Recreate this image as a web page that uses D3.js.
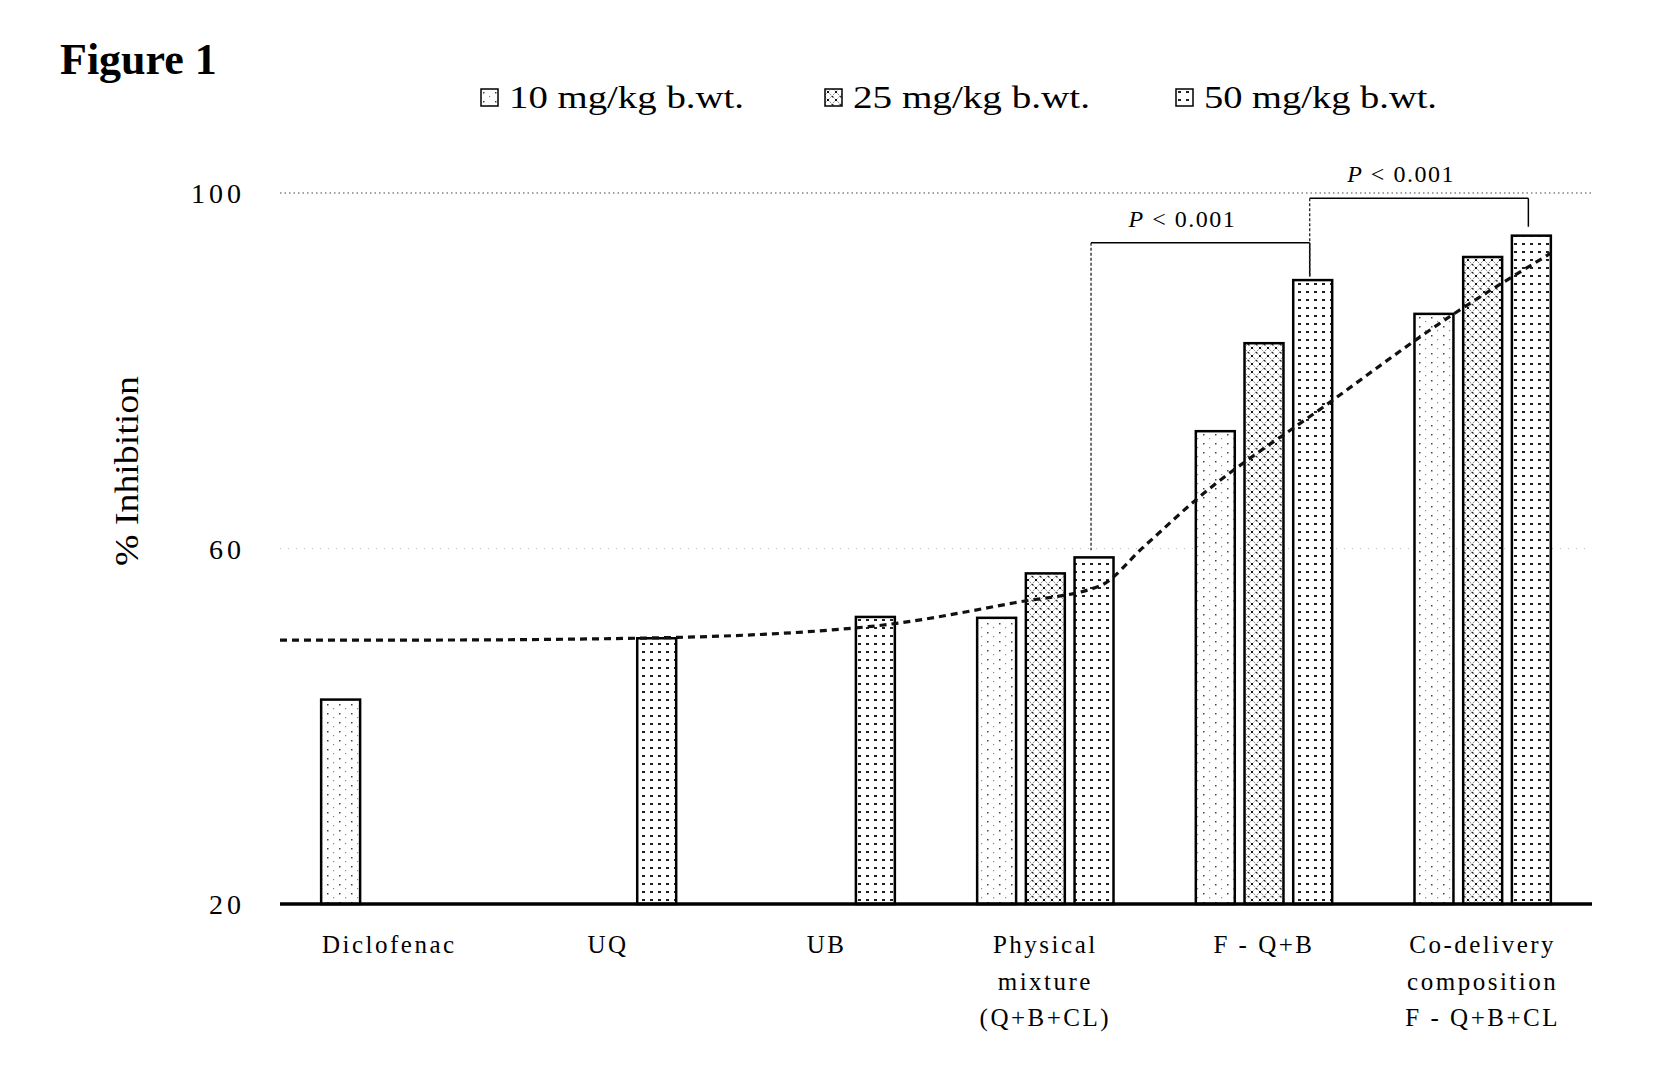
<!DOCTYPE html>
<html lang="en">
<head>
<meta charset="UTF-8">
<title>Figure 1</title>
<script src="https://d3js.org/d3.v7.min.js"></script>
<style>
  html, body { margin: 0; padding: 0; background: #fff; }
  svg { display: block; }
</style>
</head>
<body>
<svg id="chart" width="1659" height="1091"></svg>
<script>
(function () {
  'use strict';

  // ---- data ----
  const categories = ["Diclofenac", "UQ", "UB", "Physical mixture (Q+B+CL)", "F - Q+B", "Co-delivery composition F - Q+B+CL"];
  const categoryLines = [["Diclofenac"], ["UQ"], ["UB"], ["Physical", "mixture", "(Q+B+CL)"], ["F - Q+B"], ["Co-delivery", "composition", "F - Q+B+CL"]];
  const series = ["10 mg/kg b.wt.", "25 mg/kg b.wt.", "50 mg/kg b.wt."];
  const dose10 = [43.0, null, null, 52.2, 73.2, 86.4];
  const dose25 = [null, null, null, 57.2, 83.1, 92.8];
  const dose50 = [null, 49.9, 52.3, 59.0, 90.2, 95.2];
  const yTicks = [20, 60, 100];

  // dashed trend line: position in category units (0 = first group centre) and value
  const trendPos = [-0.5, 0.15, 1.12, 2.19, 2.86, 3.25, 3.45, 3.69, 4.27, 4.85, 5.31];
  const trendVal = [49.7, 49.7, 49.9, 51.2, 53.9, 55.8, 60.2, 65.5, 75.9, 86.1, 93.2];

  // significance brackets
  const brackets = [
    { from: [3, 2], to: [4, 2], level: 94.4, leftEnd: 59.8, rightEnd: 90.6, label: "0.001" },
    { from: [4, 2], to: [5, 2], level: 99.4, leftEnd: 90.6, rightEnd: 96.2, label: "0.001" }
  ];

  const values = [dose10, dose25, dose50];

  // ---- layout ----
  const svg = d3.select('#chart');
  const left = 280, right = 1592, top = 193, bottom = 904;
  const serif = "'Liberation Serif', 'Times New Roman', serif";

  const x0 = d3.scaleBand().domain(d3.range(categories.length)).range([left, right]).padding(0);
  const x1 = d3.scaleBand().domain(d3.range(series.length)).range([0, x0.bandwidth()])
      .paddingInner(0.2).paddingOuter(0.845);
  const y = d3.scaleLinear().domain([20, 100]).range([bottom, top]);
  const xc = d3.scaleLinear().domain([0, categories.length - 1])
      .range([x0(0) + x0.bandwidth() / 2, x0(categories.length - 1) + x0.bandwidth() / 2]);

  // ---- fill patterns ----
  const defs = svg.append('defs');
  const p10 = defs.append('pattern').attr('id', 'p10').attr('patternUnits', 'userSpaceOnUse')
      .attr('width', 12).attr('height', 9);
  p10.append('rect').attr('width', 12).attr('height', 9).attr('fill', '#fff');
  p10.append('rect').attr('x', 3).attr('y', 2).attr('width', 1.5).attr('height', 1.5).attr('fill', '#444');
  p10.append('rect').attr('x', 9).attr('y', 6).attr('width', 1.2).attr('height', 1.2).attr('fill', '#888');

  const p25 = defs.append('pattern').attr('id', 'p25').attr('patternUnits', 'userSpaceOnUse')
      .attr('width', 8).attr('height', 8);
  p25.append('rect').attr('width', 8).attr('height', 8).attr('fill', '#fff');
  p25.append('path').attr('d', 'M0,0 L8,8 M8,0 L0,8').attr('stroke', '#666').attr('stroke-width', 0.9)
      .attr('stroke-dasharray', '1.2,1');
  p25.append('rect').attr('x', 3).attr('y', 3).attr('width', 2).attr('height', 2).attr('fill', '#111');
  p25.append('rect').attr('x', 0).attr('y', 0).attr('width', 1.5).attr('height', 1.5).attr('fill', '#333');

  const p50 = defs.append('pattern').attr('id', 'p50').attr('patternUnits', 'userSpaceOnUse')
      .attr('width', 8).attr('height', 8);
  p50.append('rect').attr('width', 8).attr('height', 8).attr('fill', '#fff');
  p50.append('rect').attr('x', 2).attr('y', 3).attr('width', 3).attr('height', 2).attr('fill', '#222');

  const fills = ['url(#p10)', 'url(#p25)', 'url(#p50)'];

  // ---- title ----
  svg.append('text').attr('x', 60).attr('y', 74)
      .style('font', `bold 44px ${serif}`).text('Figure 1');

  // ---- legend ----
  const legendX = [481, 825, 1176];
  const legendLen = [235, 237, 233];
  const legend = svg.append('g');
  series.forEach((s, i) => {
    legend.append('rect').attr('x', legendX[i]).attr('y', 89).attr('width', 17).attr('height', 17)
        .attr('fill', fills[i]).attr('stroke', '#000').attr('stroke-width', 1.5);
    legend.append('text').attr('x', legendX[i] + 28).attr('y', 108)
        .attr('textLength', legendLen[i]).attr('lengthAdjust', 'spacingAndGlyphs')
        .style('font', `31px ${serif}`).text(s);
  });

  // ---- gridlines ----
  svg.append('line').attr('x1', left).attr('x2', right).attr('y1', y(100)).attr('y2', y(100))
      .attr('stroke', '#444').attr('stroke-width', 1.2).attr('stroke-dasharray', '1.5,3');
  svg.append('line').attr('x1', left).attr('x2', right).attr('y1', y(60)).attr('y2', y(60))
      .attr('stroke', '#bbb').attr('stroke-width', 1).attr('stroke-dasharray', '1,7');

  // ---- y axis labels ----
  svg.append('g').selectAll('text').data(yTicks).join('text')
      .attr('x', 245).attr('y', d => y(d) + 10)
      .attr('text-anchor', 'end')
      .style('font', `28px ${serif}`).style('letter-spacing', '4px')
      .text(d => d);

  svg.append('text')
      .attr('transform', `translate(138,471) rotate(-90)`)
      .attr('text-anchor', 'middle')
      .attr('textLength', 190).attr('lengthAdjust', 'spacingAndGlyphs')
      .style('font', `33px ${serif}`).text('% Inhibition');

  // ---- bars ----
  const barData = [];
  values.forEach((arr, s) => arr.forEach((v, c) => { if (v != null) barData.push({ c, s, v }); }));

  svg.append('g').selectAll('rect').data(barData).join('rect')
      .attr('x', d => x0(d.c) + x1(d.s))
      .attr('y', d => y(d.v))
      .attr('width', x1.bandwidth())
      .attr('height', d => y(20) - y(d.v))
      .attr('fill', d => fills[d.s])
      .attr('stroke', '#000').attr('stroke-width', 2.5);

  // ---- trend line ----
  const trend = d3.line().curve(d3.curveMonotoneX)
      .x(d => xc(d[0])).y(d => y(d[1]));
  svg.append('path').datum(d3.zip(trendPos, trendVal))
      .attr('d', trend).attr('fill', 'none')
      .attr('stroke', '#111').attr('stroke-width', 3.2).attr('stroke-dasharray', '7,5');

  // ---- x axis ----
  svg.append('line').attr('x1', left).attr('x2', right).attr('y1', bottom).attr('y2', bottom)
      .attr('stroke', '#000').attr('stroke-width', 3.5);

  const xl = svg.append('g').selectAll('text').data(categoryLines).join('text')
      .attr('text-anchor', 'middle')
      .style('font', `25px ${serif}`).style('letter-spacing', '2.5px');
  xl.each(function (lines, i) {
    d3.select(this).selectAll('tspan').data(lines).join('tspan')
        .attr('x', x0(i) + x0.bandwidth() / 2)
        .attr('y', (d, k) => 953 + k * 36.5)
        .text(d => d);
  });

  // ---- significance brackets ----
  const bx = p => x0(p[0]) + x1(p[1]) + x1.bandwidth() / 2;
  const bg = svg.append('g');
  brackets.forEach(b => {
    const xa = bx(b.from) - 3, xb = bx(b.to) - 3, yl = y(b.level);
    bg.append('line').attr('x1', xa).attr('x2', xa).attr('y1', yl).attr('y2', y(b.leftEnd))
        .attr('stroke', '#222').attr('stroke-width', 1.3).attr('stroke-dasharray', '3,2');
    bg.append('line').attr('x1', xa).attr('x2', xb).attr('y1', yl).attr('y2', yl)
        .attr('stroke', '#000').attr('stroke-width', 1.5);
    bg.append('line').attr('x1', xb).attr('x2', xb).attr('y1', yl).attr('y2', y(b.rightEnd))
        .attr('stroke', '#000').attr('stroke-width', 1.5);
    const t = bg.append('text').attr('x', (xa + xb) / 2 - 18).attr('y', yl - 16)
        .attr('text-anchor', 'middle')
        .style('font', `24px ${serif}`).style('letter-spacing', '1.5px');
    t.append('tspan').style('font-style', 'italic').text('P');
    t.append('tspan').text(' < ' + b.label);
  });
}());
</script>
</body>
</html>
